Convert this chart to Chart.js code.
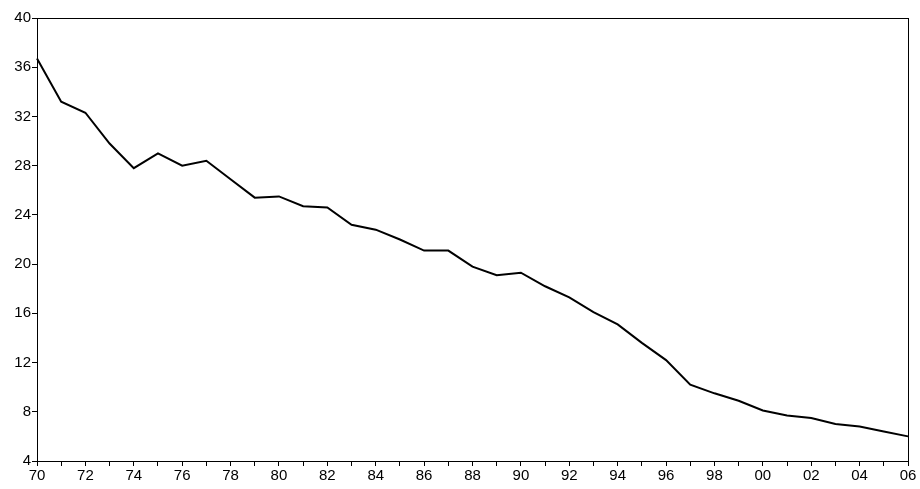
<!DOCTYPE html>
<html><head><meta charset="utf-8">
<script src="https://cdn.jsdelivr.net/npm/chart.js@4"></script>
<style>html,body{margin:0;background:#fff}#wrap{width:920px;height:489px}</style>
</head><body><div id="wrap"><canvas id="c"></canvas></div>
<script>
const years = ['70','71','72','73','74','75','76','77','78','79','80','81','82','83','84','85','86','87','88','89',
  '90','91','92','93','94','95','96','97','98','99','00','01','02','03','04','05','06'];
const values = [36.7,33.2,32.3,29.8,27.8,29.0,28.0,28.4,26.9,25.4,25.5,24.7,24.6,23.2,22.8,22.0,21.1,21.1,19.8,19.1,
  19.3,18.2,17.3,16.1,15.1,13.6,12.2,10.2,9.5,8.9,8.1,7.7,7.5,7.0,6.8,6.4,6.0];
const yTicks = [4,8,12,16,20,24,28,32,36,40];

const frame = {
  id: 'frame',
  afterDraw(chart) {
    const a = chart.chartArea, ctx = chart.ctx;
    ctx.save();
    ctx.strokeStyle = '#000';
    ctx.lineWidth = 1;
    ctx.strokeRect(a.left + 0.5, a.top + 0.5, a.right - a.left, a.bottom - a.top);
    ctx.restore();
  }
};

new Chart(document.getElementById('c'), {
  type: 'line',
  data: { labels: years, datasets: [{ data: values, borderColor: '#000', borderWidth: 2, pointRadius: 0, tension: 0, fill: false }] },
  options: {
    responsive: true, maintainAspectRatio: false, animation: false,
    layout: { padding: { top: 18, right: 12, left: 0, bottom: 0 } },
    plugins: { legend: { display: false }, tooltip: { enabled: false } },
    scales: {
      x: {
        offset: false,
        grid: { drawOnChartArea: false, color: '#000', tickLength: 5 },
        border: { color: '#000' },
        ticks: { autoSkip: false, maxRotation: 0, padding: 1, color: '#000', font: { family: 'Liberation Sans, Arial', size: 15 },
          callback: (v, i) => i % 2 === 0 ? years[i] : '' },
        afterFit: s => { s.height = 28; }
      },
      y: {
        min: 4, max: 40,
        afterBuildTicks: s => { s.ticks = yTicks.map(v => ({ value: v })); },
        grid: { drawOnChartArea: false, color: '#000', tickLength: 5 },
        border: { color: '#000' },
        ticks: { padding: 1, color: '#000', font: { family: 'Liberation Sans, Arial', size: 15 } },
        afterFit: s => { s.width = 37; }
      }
    }
  },
  plugins: [frame]
});
</script></body></html>
